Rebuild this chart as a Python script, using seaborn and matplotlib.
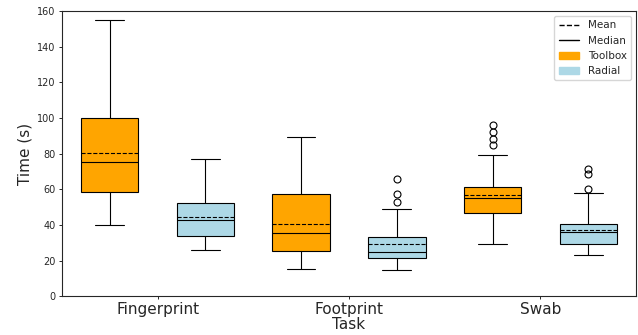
import matplotlib.pyplot as plt
import matplotlib.lines as mlines
import matplotlib.patches as mpatches
import seaborn as sns

# values (seconds)
tasks = ['Fingerprint', 'Footprint', 'Swab']
methods = ['Toolbox', 'Radial']
colors = {'Toolbox': 'orange', 'Radial': 'lightblue'}

toolbox_whislo = [40.0, 15.0, 29.5]
toolbox_q1 = [58.7, 25.5, 46.5]
toolbox_med = [75.1, 35.2, 55.0]
toolbox_mean = [80.1, 40.6, 56.9]
toolbox_q3 = [100.1, 57.5, 61.4]
toolbox_whishi = [154.8, 89.3, 79.4]
toolbox_fliers = [[], [], [95.8, 91.9, 88.3, 84.6]]

radial_whislo = [26.0, 14.7, 23.0]
radial_q1 = [33.8, 21.3, 29.0]
radial_med = [42.6, 24.6, 35.8]
radial_mean = [44.2, 29.0, 36.9]
radial_q3 = [52.0, 33.4, 40.7]
radial_whishi = [77.1, 48.8, 58.0]
radial_fliers = [[], [65.5, 57.1, 53.0], [71.5, 68.7, 59.9]]


def make_stats(whislo, q1, med, mean, q3, whishi, fliers):
    stats = []
    for i in range(len(whislo)):
        stats.append({'whislo': whislo[i], 'q1': q1[i], 'med': med[i],
                      'mean': mean[i], 'q3': q3[i], 'whishi': whishi[i],
                      'fliers': fliers[i]})
    return stats


sns.set_theme(style='ticks')
plt.rcParams['font.family'] = ['DejaVu Sans']

fig, ax = plt.subplots(figsize=(6.38, 3.35), dpi=100)

groups = {
    'Toolbox': make_stats(toolbox_whislo, toolbox_q1, toolbox_med, toolbox_mean,
                          toolbox_q3, toolbox_whishi, toolbox_fliers),
    'Radial': make_stats(radial_whislo, radial_q1, radial_med, radial_mean,
                         radial_q3, radial_whishi, radial_fliers),
}
offsets = {'Toolbox': -0.25, 'Radial': 0.25}

for m in methods:
    pos = [i + 1 + offsets[m] for i in range(len(tasks))]
    ax.bxp(groups[m], positions=pos, widths=0.3, patch_artist=True,
           showmeans=True, meanline=True, manage_ticks=False,
           boxprops=dict(facecolor=colors[m], edgecolor='black', linewidth=0.8),
           medianprops=dict(color='black', linewidth=0.8),
           meanprops=dict(color='black', linestyle='--', linewidth=0.8),
           whiskerprops=dict(color='black', linewidth=0.8),
           capprops=dict(color='black', linewidth=0.8),
           flierprops=dict(marker='o', markerfacecolor='none',
                           markeredgecolor='black', markersize=5,
                           markeredgewidth=0.8))

ax.set_xticks(range(1, len(tasks) + 1))
ax.set_xticklabels(tasks, fontsize=11)
ax.set_xlim(0.5, 3.5)
ax.set_ylim(0, 160)
ax.tick_params(axis='both', length=2.5, width=0.7, pad=2)
ax.tick_params(axis='y', labelsize=7)
ax.set_xlabel('Task', fontsize=11, labelpad=0)
ax.set_ylabel('Time (s)', fontsize=11, labelpad=3)
for s in ax.spines.values():
    s.set_linewidth(0.8)

handles = [
    mlines.Line2D([], [], color='black', linestyle='--', linewidth=1, label='Mean'),
    mlines.Line2D([], [], color='black', linestyle='-', linewidth=1, label='Median'),
    mpatches.Patch(color=colors['Toolbox'], label='Toolbox'),
    mpatches.Patch(color=colors['Radial'], label='Radial'),
]
ax.legend(handles=handles, loc='upper right', fontsize=7.5)

fig.subplots_adjust(left=0.097, right=0.997, top=0.967, bottom=0.116)
fig.savefig('out.png', dpi=100)
